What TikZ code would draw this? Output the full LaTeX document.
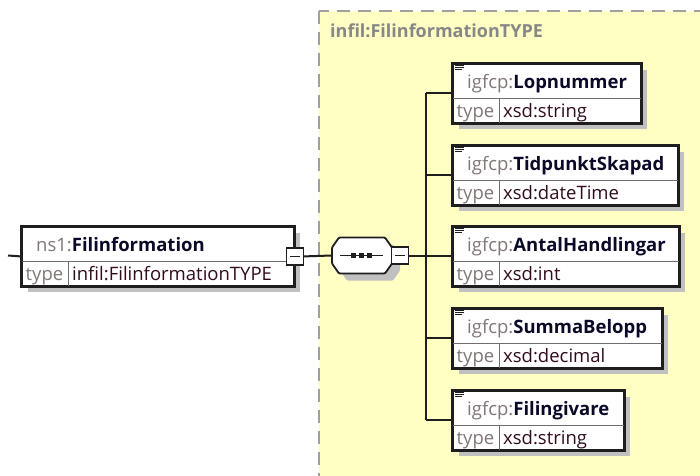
\documentclass[tikz,border=0pt]{standalone}
\usepackage{fontspec}
\setmainfont{Open Sans}
\usetikzlibrary{shadows}
\definecolor{panel}{RGB}{255,255,196}
\definecolor{dashgray}{RGB}{160,160,160}
\definecolor{shadowgray}{RGB}{192,192,192}
\definecolor{boxline}{RGB}{30,30,30}
\definecolor{divgray}{RGB}{110,110,110}
\definecolor{prefixgray}{RGB}{130,118,118}
\definecolor{namecol}{RGB}{10,10,40}
\definecolor{typecol}{RGB}{50,12,30}
\definecolor{labelgray}{RGB}{135,135,135}
\newcommand\dfont{\fontsize{18.5}{22}\selectfont}
\tikzset{
  elembox/.style={draw=boxline, line width=1.8pt, fill=white, inner sep=0pt,
    minimum height=59pt, anchor=north west,
    drop shadow={shadow xshift=6pt, shadow yshift=-6pt, fill=shadowgray, opacity=1}},
  divline/.style={draw=divgray, line width=1pt},
  headtext/.style={anchor=base west, inner sep=0pt, font=\dfont},
  typelbl/.style={anchor=base west, inner sep=0pt, text=prefixgray, font=\dfont},
  typeval/.style={anchor=base west, inner sep=0pt, text=typecol, font=\dfont},
  conn/.style={draw=boxline, line width=2pt},
  minusbox/.style={draw=boxline, line width=1.6pt, fill=white, minimum size=17pt, inner sep=0pt},
  iconline/.style={draw=boxline, line width=1pt},
  panellbl/.style={anchor=base west, inner sep=0pt, text=labelgray, font=\fontsize{18}{22}\selectfont\bfseries}
}
\newcommand\xelem[7]{%
  \node[elembox, minimum width=#4] (#1) at (#2,#3) {};
  \draw[divline] ([yshift=-35pt]#1.north west) -- ([yshift=-35pt]#1.north east);
  \draw[divline] ([xshift=47pt,yshift=-35pt]#1.north west) -- ([xshift=47pt]#1.south west);
  \draw[draw=boxline, line width=1.8pt] (#1.north west) rectangle (#1.south east);
  \node[headtext] (#1-h) at ([xshift=15pt,yshift=-25pt]#1.north west) {\textcolor{prefixgray}{#5}\textcolor{namecol}{\bfseries #6}};
  \node[typelbl] (#1-t) at ([xshift=4.5pt,yshift=-54pt]#1.north west) {type};
  \node[typeval] (#1-v) at ([xshift=51pt,yshift=-54pt]#1.north west) {#7};
}
\newcommand\xicon[1]{%
  \draw[iconline] ([xshift=3pt,yshift=-2.7pt]#1.north west) -- ++(9,0);
  \draw[iconline] ([xshift=3pt,yshift=-4.7pt]#1.north west) -- ++(9,0);
  \draw[iconline] ([xshift=3pt,yshift=-6.7pt]#1.north west) -- ++(7,0);
}
\begin{document}
\begin{tikzpicture}[x=1pt,y=-1pt]
\useasboundingbox (0,0) rectangle (700,475);
\fill[white] (0,0) rectangle (700,475);
% panel
\filldraw[fill=panel, draw=dashgray, line width=2pt, dash pattern=on 13pt off 8pt] (318.5,10.5) rectangle (710,485);
\node[panellbl] (plbl) at (330,37) {infil:FilinformationTYPE};
% left element
\xelem{lbox}{21}{226}{272pt}{ns1:}{Filinformation}{infil:FilinformationTYPE}
\coordinate (stub) at (8,255.5);
\draw[conn] (stub) -- (lbox.west);
\node[minusbox] (m1) at (lbox.east) {};
\draw[boxline, line width=1.4pt] ([xshift=-5pt]m1.center) -- ([xshift=5pt]m1.center);
% sequence
\node[inner sep=0pt, minimum width=60pt, minimum height=36pt] (seq) at (362,255.5) {};
\draw[conn] (m1.east) -- (seq.west);
\begin{scope}[shift={(seq.center)}]
  \fill[shadowgray, rounded corners=1pt] (-22,-10) -- (-15,-11) -- (31,-11) -- (38,-1) -- (38,15) -- (31,25) -- (-15,25) -- (-22,15) -- cycle;
  \filldraw[fill=white, draw=boxline, line width=1.8pt, rounded corners=1pt]
    (-30,-8) -- (-23,-18) -- (23,-18) -- (30,-8) -- (30,8) -- (23,18) -- (-23,18) -- (-30,8) -- cycle;
  \draw[boxline, line width=1.5pt] (-22,0) -- (21,0);
  \fill[boxline] (-11.5,-2.5) rectangle (-6.5,2.5);
  \fill[boxline] (-3.5,-2.5) rectangle (1.5,2.5);
  \fill[boxline] (5,-2.5) rectangle (10,2.5);
\end{scope}
\node[minusbox] (m2) at (400,255.5) {};
\draw[boxline, line width=1.4pt] ([xshift=-5pt]m2.center) -- ([xshift=5pt]m2.center);
\coordinate (bar) at (426,255.5);
\draw[conn] (m2.east) -- (bar);
% children
\xelem{c1}{452}{63}{188pt}{igfcp:}{Lopnummer}{xsd:string}
\xelem{c2}{452}{145}{225pt}{igfcp:}{TidpunktSkapad}{xsd:dateTime}
\xelem{c3}{452}{226}{226pt}{igfcp:}{AntalHandlingar}{xsd:int}
\xelem{c4}{452}{308}{209pt}{igfcp:}{SummaBelopp}{xsd:decimal}
\xelem{c5}{452}{390}{171pt}{igfcp:}{Filingivare}{xsd:string}
\xicon{c1}\xicon{c2}\xicon{c3}\xicon{c4}\xicon{c5}
\draw[conn] (bar |- c1.west) -- (bar |- c5.west);
\foreach \c in {c1,c2,c3,c4,c5} { \draw[conn] (bar |- \c.west) -- (\c.west); }
\end{tikzpicture}
\end{document}
